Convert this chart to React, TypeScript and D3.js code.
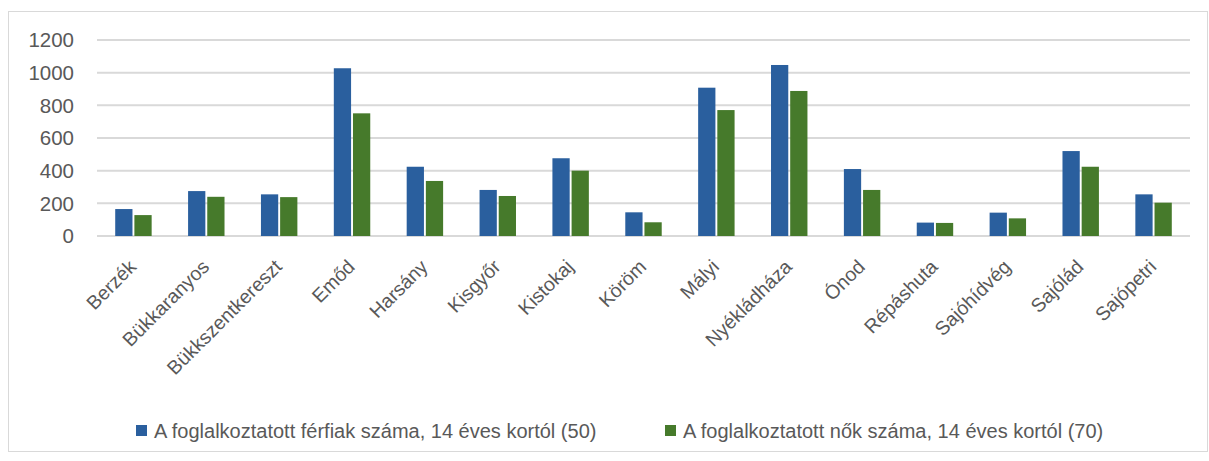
import React from "react";
import * as d3 from "d3";

const categories = [
  "Berzék", "Bükkaranyos", "Bükkszentkereszt", "Emőd", "Harsány", "Kisgyőr", "Kistokaj",
  "Köröm", "Mályi", "Nyékládháza", "Ónod", "Répáshuta", "Sajóhídvég", "Sajólád", "Sajópetri",
];
const men = [165, 275, 255, 1027, 424, 282, 476, 145, 908, 1047, 410, 82, 143, 520, 255];
const women = [128, 240, 238, 751, 337, 245, 400, 84, 771, 888, 282, 80, 108, 424, 204];
const seriesNames = [
  "A foglalkoztatott férfiak száma, 14 éves kortól (50)",
  "A foglalkoztatott nők száma, 14 éves kortól (70)",
];
const yTicks = [0, 200, 400, 600, 800, 1000, 1200];
const colors = ["#2a5f9e", "#467a2b"];

export default function App() {
  const W = 1209, H = 461;
  const left = 97, right = 1190, top = 40, bottom = 236;
  const x = d3.scaleBand<string>().domain(categories).range([left, right]).paddingInner(0.5).paddingOuter(0.25);
  const x1 = d3.scaleBand<number>().domain([0, 1]).range([0, x.bandwidth()]).paddingInner(0.1);
  const y = d3.scaleLinear().domain([0, 1200]).range([bottom, top]);
  const font = "'Liberation Sans', Arial, sans-serif";
  const textColor = "#595959";
  const series = [men, women];
  return (
    <svg width={W} height={H} style={{ position: "absolute", left: 0, top: 0, background: "#fff" }}>
      <rect x={8.5} y={11.5} width={1199} height={440} fill="#fff" stroke="#d9d9d9" />
      {yTicks.map((t) => (
        <g key={t}>
          <line x1={left} x2={right} y1={y(t)} y2={y(t)} stroke="#d9d9d9" strokeWidth={2} />
          <text x={74} y={y(t)} dy="0.35em" textAnchor="end" fontFamily={font} fontSize={20.5} fill={textColor}>
            {t}
          </text>
        </g>
      ))}
      {series.map((vals, si) =>
        categories.map((c, i) => (
          <rect
            key={si + "-" + c}
            x={(x(c) as number) + (x1(si) as number)}
            y={y(vals[i])}
            width={x1.bandwidth()}
            height={y(0) - y(vals[i])}
            fill={colors[si]}
          />
        ))
      )}
      {categories.map((c) => {
        const cx = (x(c) as number) + x.bandwidth() / 2;
        return (
          <text
            key={c}
            transform={`translate(${cx + 4},${268}) rotate(-45)`}
            textAnchor="end"
            fontFamily={font}
            fontSize={19.5}
            fill={textColor}
          >
            {c}
          </text>
        );
      })}
      {seriesNames.map((n, i) => {
        const lx = [136, 665][i];
        return (
          <g key={n}>
            <rect x={lx} y={425} width={11} height={11} fill={colors[i]} />
            <text x={lx + 18} y={431} dy="0.35em" fontFamily={font} fontSize={20} fill={textColor}>
              {n}
            </text>
          </g>
        );
      })}
    </svg>
  );
}
